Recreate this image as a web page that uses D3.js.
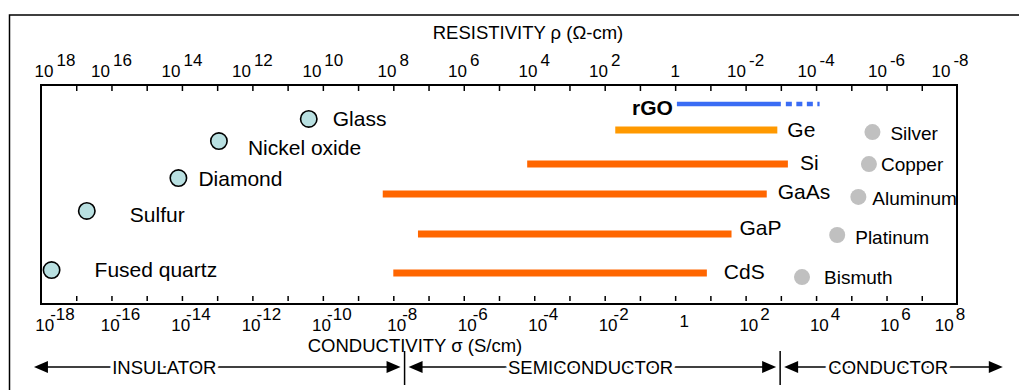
<!DOCTYPE html>
<html>
<head>
<meta charset="utf-8">
<script src="https://cdn.jsdelivr.net/npm/d3@7"></script>
<style>
  body { margin: 0; background: #fff; }
  svg text { font-family: "Liberation Sans", Arial, sans-serif; fill: #000; }
</style>
</head>
<body>
<svg id="chart" width="1019" height="390"></svg>
<script>
// all values are exponents of 10, conductivity in S/cm
var insulatorNames = ['Glass', 'Nickel oxide', 'Diamond', 'Sulfur', 'Fused quartz'];
var insulatorSigma = [-10.4, -12.95, -14.1, -16.7, -17.7];
var insulatorRow = [1.55, 2.56, 4.25, 5.75, 8.45];

var semiNames = ['rGO', 'Ge', 'Si', 'GaAs', 'GaP', 'CdS'];
var semiLow = [0.05, -1.7, -4.2, -8.3, -7.3, -8.0];
var semiHigh = [3.0, 2.9, 3.2, 2.6, 1.6, 0.9];
var semiRow = [0.87, 2.05, 3.61, 4.98, 6.8, 8.58];
var rgoDottedTo = 4.1;

var metalNames = ['Silver', 'Copper', 'Aluminum', 'Platinum', 'Bismuth'];
var metalSigma = [5.6, 5.5, 5.2, 4.6, 3.6];
var metalRow = [2.15, 3.61, 5.11, 6.85, 8.77];

var resistLabels = [18, 16, 14, 12, 10, 8, 6, 4, 2, 0, -2, -4, -6, -8];
var conductLabels = [-18, -16, -14, -12, -10, -8, -6, -4, -2, 0, 2, 4, 6, 8];

var classNames = ['INSULATOR', 'SEMICONDUCTOR', 'CONDUCTOR'];
var classEdges = [-18.2, -7.68, 2.98, 9.3];
var classLabelAt = [-14.5, -2.4, 6.05];

// label nudges, px
var insulatorLabelDx = [24, 29, 20, 43, 43], insulatorLabelDy = [0, 6, 0, 4, -1];
var semiLabelDx = [-4, 10, 12, 11, 8, 17], semiLabelDy = [3, 0, -2, -3, -6, -1];
var metalLabelDx = [18, 12, 14, 18, 22], metalLabelDy = [1, 0, 1, 2, 0];

var boxL = 41, boxR = 957, boxT = 85, boxB = 304;
var p = function(e){ return Math.pow(10, e); };

var xS = d3.scaleLog().domain([1e-18, 1e8]).range([boxL, boxR]);
var xR = d3.scaleLog().domain([1e18, 1e-8]).range([boxL, boxR]);
var yRow = d3.scaleLinear().domain([0, 10]).range([boxT, boxB]);

var svg = d3.select('#chart');

// outer frame
svg.append('rect')
  .attr('x', 9.5).attr('y', 15)
  .attr('width', 1040).attr('height', 400)
  .attr('fill', 'none').attr('stroke', '#000').attr('stroke-width', 1.5);

// decade ticks
var decades = d3.range(-17, 8).map(p);
var topAxis = d3.axisBottom(xS).tickValues(decades).tickSize(5).tickFormat('');
var botAxis = d3.axisTop(xS).tickValues(decades).tickSize(5).tickFormat('');
var gTop = svg.append('g').attr('transform', 'translate(0,' + (boxT + 1) + ')').call(topAxis);
var gBot = svg.append('g').attr('transform', 'translate(0,' + (boxB - 3) + ')').call(botAxis);
[gTop, gBot].forEach(function(g){
  g.select('.domain').remove();
  g.selectAll('line').attr('stroke', '#000').attr('stroke-width', 1.5);
});

svg.append('rect')
  .attr('x', boxL).attr('y', boxT)
  .attr('width', boxR - boxL).attr('height', boxB - boxT)
  .attr('fill', 'none').attr('stroke', '#000').attr('stroke-width', 2);

// power-of-ten labels
function powLabel(g, e, cx, y, supDx){
  var t = g.append('text').attr('x', cx).attr('y', y)
    .attr('font-size', 17).attr('text-anchor', 'middle');
  if(e === 0){
    t.text('1');
    return;
  }
  t.append('tspan').text('10');
  t.append('tspan').attr('dx', supDx(e)).attr('dy', -11).text(e);
}
var clampX = function(x){ return Math.min(Math.max(x, boxL + 14), boxR - 7); };

var gTopLab = svg.append('g');
resistLabels.forEach(function(e){
  powLabel(gTopLab, e, clampX(xR(p(e))), 77, function(){ return 3; });
});
var gBotLab = svg.append('g');
conductLabels.forEach(function(e){
  powLabel(gBotLab, e, clampX(xS(p(e)) + 9), e === 0 ? 327 : 331, function(v){ return v < 0 ? -4 : 2; });
});

svg.append('text').attr('x', 528).attr('y', 39).attr('text-anchor', 'middle')
  .attr('font-size', 18.5).text('RESISTIVITY \u03c1 (\u03a9-cm)');
svg.append('text').attr('x', 415).attr('y', 352).attr('text-anchor', 'middle')
  .attr('font-size', 18.5).text('CONDUCTIVITY \u03c3 (S/cm)');

// insulators
var gIns = svg.append('g');
gIns.selectAll('circle').data(insulatorNames).enter().append('circle')
  .attr('cx', function(d, i){ return xS(p(insulatorSigma[i])); })
  .attr('cy', function(d, i){ return yRow(insulatorRow[i]); })
  .attr('r', 8.2)
  .attr('fill', '#b9e0e1').attr('stroke', '#000').attr('stroke-width', 1.6);
gIns.selectAll('text').data(insulatorNames).enter().append('text')
  .attr('x', function(d, i){ return xS(p(insulatorSigma[i])) + insulatorLabelDx[i]; })
  .attr('y', function(d, i){ return yRow(insulatorRow[i]) + insulatorLabelDy[i] + 7.5; })
  .attr('font-size', 21)
  .text(function(d){ return d; });

// semiconductors
var gSemi = svg.append('g');
gSemi.selectAll('line').data(semiNames).enter().append('line')
  .attr('x1', function(d, i){ return xS(p(semiLow[i])); })
  .attr('x2', function(d, i){ return xS(p(semiHigh[i])); })
  .attr('y1', function(d, i){ return yRow(semiRow[i]); })
  .attr('y2', function(d, i){ return yRow(semiRow[i]); })
  .attr('stroke', function(d, i){
    if(i == 0){ return '#3a6cf4'; }
    else if(i == 1){ return '#ff9900'; }
    else { return '#ff6600'; }
  })
  .attr('stroke-width', function(d, i){ return i == 0 ? 4.5 : 7; });

gSemi.append('line')
  .attr('x1', xS(p(semiHigh[0])) + 5)
  .attr('x2', xS(p(rgoDottedTo)))
  .attr('y1', yRow(semiRow[0])).attr('y2', yRow(semiRow[0]))
  .attr('stroke', '#3a6cf4').attr('stroke-width', 4.5)
  .attr('stroke-dasharray', '6,4.5');

gSemi.selectAll('text').data(semiNames).enter().append('text')
  .attr('x', function(d, i){ return xS(p(i == 0 ? semiLow[i] : semiHigh[i])) + semiLabelDx[i]; })
  .attr('y', function(d, i){ return yRow(semiRow[i]) + semiLabelDy[i] + 7.5; })
  .attr('text-anchor', function(d, i){ return i == 0 ? 'end' : 'start'; })
  .attr('font-weight', function(d, i){ return i == 0 ? 'bold' : 'normal'; })
  .attr('font-size', 21)
  .text(function(d){ return d; });

// conductors
var gMet = svg.append('g');
gMet.selectAll('circle').data(metalNames).enter().append('circle')
  .attr('cx', function(d, i){ return xS(p(metalSigma[i])); })
  .attr('cy', function(d, i){ return yRow(metalRow[i]); })
  .attr('r', 8)
  .attr('fill', '#c0c0c0');
gMet.selectAll('text').data(metalNames).enter().append('text')
  .attr('x', function(d, i){ return xS(p(metalSigma[i])) + metalLabelDx[i]; })
  .attr('y', function(d, i){ return yRow(metalRow[i]) + metalLabelDy[i] + 7; })
  .attr('font-size', 19)
  .text(function(d){ return d; });

// class arrows along the conductivity axis
var arrowY = 367, gap = 4, head = 14;
var gCls = svg.append('g');
classNames.forEach(function(name, i){
  var a = xS(p(classEdges[i])) + (i > 0 ? gap : 0);
  var b = xS(p(classEdges[i + 1])) - (i < 2 ? gap : 0);
  gCls.append('line')
    .attr('x1', a + head - 1).attr('x2', b - head + 1)
    .attr('y1', arrowY).attr('y2', arrowY)
    .attr('stroke', '#000').attr('stroke-width', 1.5);
  gCls.append('path')
    .attr('d', 'M' + a + ',' + arrowY + 'l' + head + ',-6v12z');
  gCls.append('path')
    .attr('d', 'M' + b + ',' + arrowY + 'l' + (-head) + ',-6v12z');
  gCls.append('text')
    .attr('x', xS(p(classLabelAt[i]))).attr('y', arrowY + 6.5)
    .attr('text-anchor', 'middle').attr('font-size', 18.5)
    .attr('stroke', '#fff').attr('stroke-width', 7).attr('paint-order', 'stroke')
    .text(name);
});
classEdges.slice(1, 3).forEach(function(e){
  gCls.append('line')
    .attr('x1', xS(p(e))).attr('x2', xS(p(e)))
    .attr('y1', 351).attr('y2', 385)
    .attr('stroke', '#000').attr('stroke-width', 1.5);
});
</script>
</body>
</html>
